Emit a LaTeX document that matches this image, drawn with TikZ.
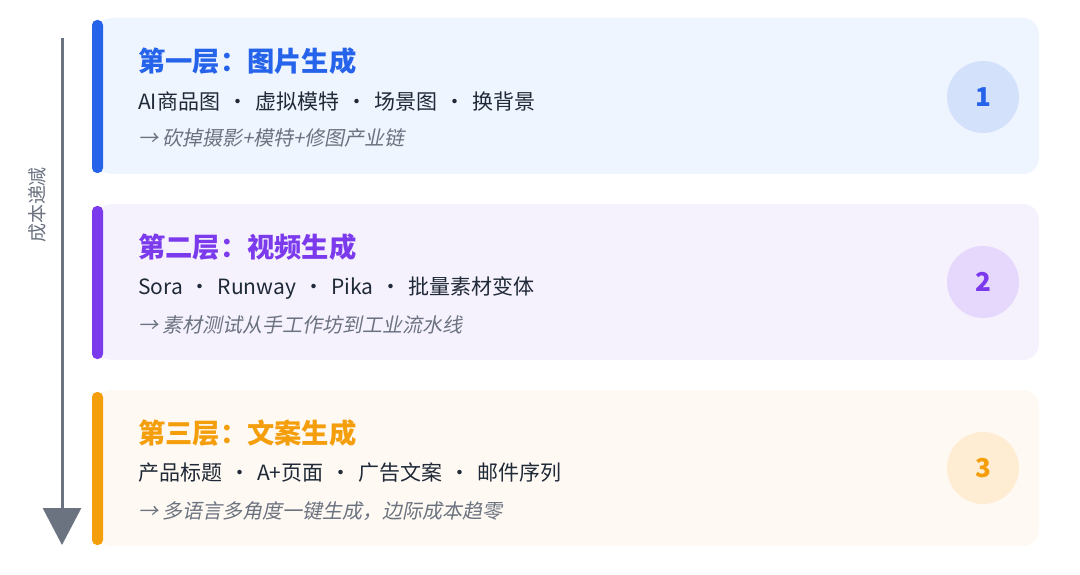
\documentclass[tikz,border=0pt]{standalone}
\usepackage{fontspec}
\setmainfont{Noto Sans CJK SC}
\newfontfamily\cjkit[FakeSlant=0.2]{Noto Sans CJK SC}
\usetikzlibrary{arrows.meta}
\definecolor{cblue}{HTML}{2563EB}
\definecolor{cpurple}{HTML}{7C3AED}
\definecolor{corange}{HTML}{F59E0B}
\definecolor{bgblue}{HTML}{EFF5FF}
\definecolor{bgpurple}{HTML}{F5F2FE}
\definecolor{bgorange}{HTML}{FEF9F2}
\definecolor{ciblue}{HTML}{D3E1FB}
\definecolor{cipurple}{HTML}{E6D8FC}
\definecolor{ciorange}{HTML}{FEEDD2}
\definecolor{txtdark}{HTML}{1F2937}
\definecolor{txtgray}{HTML}{6B7280}
\newcommand{\sepdot}{ \hspace{2.3pt}·\hspace{2.3pt} }
\begin{document}
\begin{tikzpicture}[x=1pt,y=-1pt,
  card/.style={rounded corners=16pt},
  accentbar/.style={rounded corners=5pt},
  titletext/.style={anchor=west,inner sep=0pt,font=\fontsize{27.3}{32}\selectfont\bfseries},
  subtext/.style={anchor=west,inner sep=0pt,text=txtdark,font=\fontsize{21}{25}\selectfont},
  notetext/.style={anchor=west,inner sep=0pt,text=txtgray,font=\fontsize{20}{24}\cjkit},
  numcircle/.style={circle,minimum size=72pt,inner sep=0pt,font=\fontsize{26}{30}\selectfont\bfseries}
]
\useasboundingbox (0,0) rectangle (1080,575);
\fill[white] (0,0) rectangle (1080,575);

% arrow
\coordinate (atop) at (62,38);
\coordinate (abot) at (62,545);
\draw[txtgray,line width=3pt,-{Triangle[width=38pt,length=37pt]}] (atop) -- (abot);
\node[rotate=90,text=txtgray,font=\fontsize{19}{22}\selectfont,inner sep=0pt] (costlbl) at (37,205) {成本递减};

% card 1
\fill[bgblue,card] (96,18) rectangle (1039,174);
\fill[cblue,accentbar] (92,20) rectangle (103,173);
\node[titletext,text=cblue] (t1) at (138,61) {第一层：图片生成};
\node[subtext] (s1) at (138,101) {AI商品图\sepdot 虚拟模特\sepdot 场景图\sepdot 换背景};
\node[notetext] (n1) at (138,138) {→ 砍掉摄影+模特+修图产业链};
\node[numcircle,fill=ciblue,text=cblue] (c1) at (983,97) {1};

% card 2
\fill[bgpurple,card] (96,204) rectangle (1039,360);
\fill[cpurple,accentbar] (92,206) rectangle (103,359);
\node[titletext,text=cpurple] (t2) at (138,247) {第二层：视频生成};
\node[subtext] (s2) at (138,288) {Sora\sepdot Runway\sepdot Pika\sepdot 批量素材变体};
\node[notetext] (n2) at (138,325) {→ 素材测试从手工作坊到工业流水线};
\node[numcircle,fill=cipurple,text=cpurple] (c2) at (983,282) {2};

% card 3
\fill[bgorange,card] (96,390) rectangle (1039,546);
\fill[corange,accentbar] (92,392) rectangle (103,545);
\node[titletext,text=corange] (t3) at (138,433) {第三层：文案生成};
\node[subtext] (s3) at (138,473) {产品标题\sepdot A+页面\sepdot 广告文案\sepdot 邮件序列};
\node[notetext] (n3) at (138,511) {→ 多语言多角度一键生成，边际成本趋零};
\node[numcircle,fill=ciorange,text=corange] (c3) at (983,468) {3};
\end{tikzpicture}
\end{document}
